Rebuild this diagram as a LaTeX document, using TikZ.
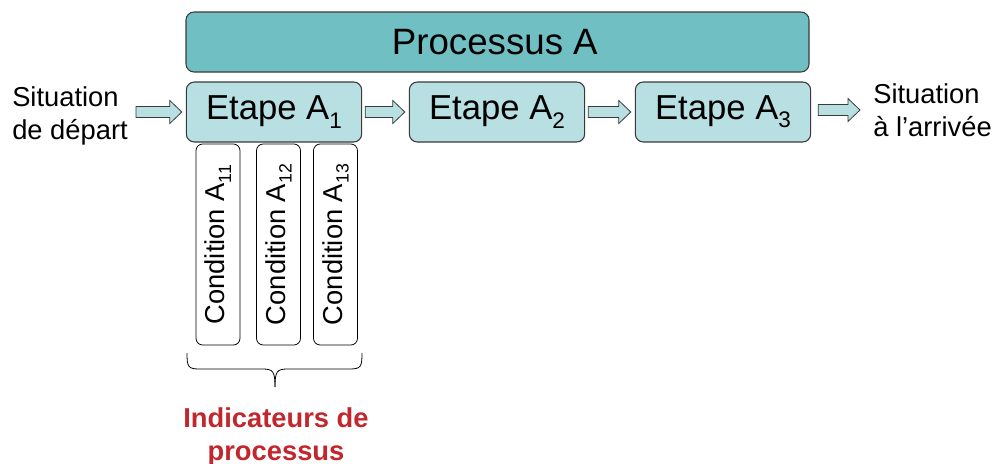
\documentclass[tikz,border=0pt]{standalone}
\usepackage{fontspec}
\setmainfont{Liberation Sans}
\usetikzlibrary{calc}

\definecolor{tealdark}{HTML}{70BFC3}
\definecolor{teallight}{HTML}{B8DFE2}
\definecolor{edgegray}{HTML}{3A3A3A}
\definecolor{indred}{HTML}{C1272D}

% lowered, reduced index as in "A_1"
\newcommand\lowidx[1]{\raisebox{-0.24em}{\scalebox{0.65}{#1}}}

\tikzset{
  procbox/.style={draw=edgegray, line width=0.8pt, fill=tealdark, rounded corners=6pt,
    minimum width=467.25pt, minimum height=45pt, inner sep=0pt,
    font=\fontsize{27.5}{32}\selectfont},
  stepbox/.style={draw=edgegray, line width=0.8pt, fill=teallight, rounded corners=6pt,
    minimum width=131.5pt, minimum height=45pt, inner sep=0pt,
    font=\fontsize{26}{31}\selectfont},
  condbox/.style={draw=black, line width=0.6pt, fill=white, rounded corners=5pt, rotate=90,
    minimum width=150.75pt, minimum height=33pt, inner sep=0pt,
    font=\fontsize{20.5}{24}\selectfont},
  sidetext/.style={align=left, inner sep=0pt, font=\fontsize{20.5}{24.5}\selectfont},
  redtext/.style={align=center, inner sep=0pt, text=indred,
    font=\fontsize{20.5}{24.75}\selectfont\bfseries},
  flowarrow/.style={draw=edgegray, line width=0.6pt, fill=teallight},
  bracket/.style={draw=black, line width=0.6pt},
}

% block arrow from node #1 to node #2, leaving gaps #3 (start) and #4 (end)
\newcommand\flowto[4]{%
  \path[flowarrow] let \p1=($(#1)+(#3,0)$), \p2=($(#2)-(#4,0)$), \p3=($(\p2)-(9pt,0)$) in
    (\x1,\y2+4.1pt) -- (\x3,\y2+4.1pt) -- (\x3,\y2+8.6pt) -- (\x2,\y2)
    -- (\x3,\y2-8.6pt) -- (\x3,\y2-4.1pt) -- (\x1,\y2-4.1pt) -- cycle;}

\begin{document}
\begin{tikzpicture}[x=0.75pt,y=-0.75pt]
  \useasboundingbox (0,0) rectangle (1000,464);

  % process and its steps
  \node[procbox] (proc) at (497.5,42) {Processus A\kern4pt};
  \node[stepbox] (a1) at (274,112) {Etape A\lowidx{1}};
  \node[stepbox] (a2) at (497,112) {Etape A\lowidx{2}};
  \node[stepbox] (a3) at (723,112) {Etape A\lowidx{3}};

  % start and end situations
  \node[sidetext] (start) at (70,116) {Situation\\de départ};
  \node[sidetext, anchor=west] (end) at (873,110) {Situation\\à l’arrivée};

  % flow arrows
  \flowto{start.east}{a1.west}{6pt}{3pt}
  \flowto{a1.east}{a2.west}{2.25pt}{3pt}
  \flowto{a2.east}{a3.west}{2.25pt}{3pt}
  \flowto{a3.east}{end.west}{5.25pt}{9.75pt}

  % conditions of the first step
  \node[condbox] (c11) at (218,244.5) {Condition A\lowidx{11}};
  \node[condbox] (c12) at (278.5,244.5) {Condition A\lowidx{12}};
  \node[condbox] (c13) at (335.5,244.5) {Condition A\lowidx{13}};

  % brace grouping the conditions
  \draw[bracket] (187,353) .. controls (187,367) and (188,369) .. (200,369) -- (262,369)
    .. controls (273,369) and (275,371) .. (275,387);
  \draw[bracket] (362,353) .. controls (362,367) and (361,369) .. (349,369) -- (288,369)
    .. controls (277,369) and (275,371) .. (275,387);

  \node[redtext] (ind) at (276,436.5) {Indicateurs de\\processus};
\end{tikzpicture}
\end{document}
